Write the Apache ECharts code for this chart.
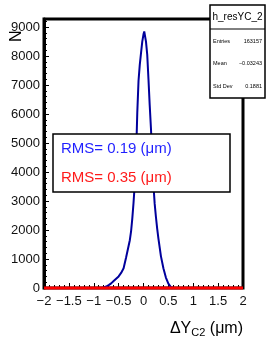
<!DOCTYPE html>
<html>
<head>
<meta charset="utf-8">
<script src="https://cdn.jsdelivr.net/npm/echarts@6/dist/echarts.min.js"></script>
<style>
  html, body { margin: 0; padding: 0; background: #fff; }
  #chart { width: 266px; height: 342px; }
</style>
</head>
<body>
<div id="chart"></div>
<script>
// blue histogram (narrow residual)
const blueX = [-2, -0.85, -0.8, -0.75, -0.7, -0.65, -0.6, -0.55, -0.5, -0.45, -0.4, -0.35, -0.3, -0.275, -0.25,
	-0.225, -0.2, -0.175, -0.15, -0.125, -0.1, -0.075, -0.05, -0.025, 0, 0.015, 0.025, 0.05, 0.075, 0.1,
	0.125, 0.15, 0.175, 0.2, 0.225, 0.25, 0.275, 0.3, 0.35, 0.4, 0.45, 0.5, 0.55, 0.6, 2];
const blueY = [0, 0, 20, 50, 100, 160, 240, 320, 400, 520, 680, 1050, 1450, 1650, 1950,
	2400, 2950, 3600, 4500, 6050, 7150, 7700, 8100, 8500, 8750, 8850, 8800, 8500, 8050, 7200,
	6300, 5500, 4500, 3550, 2900, 2450, 2050, 1700, 1100, 680, 360, 150, 30, 0, 0];
// red histogram lies flat on the axis
const redX = [-2, 2];
const redY = [0, 0];

const xTicks = [-2, -1.5, -1, -0.5, 0, 0.5, 1, 1.5, 2];
const yTicks = [0, 1000, 2000, 3000, 4000, 5000, 6000, 7000, 8000, 9000];

const statsTitle = 'h_resYC_2';
const statsLabels = ['Entries', 'Mean', 'Std Dev'];
const statsValues = ['163157', '\u22120.03243', '0.1881'];
const rmsLabels = ['RMS= 0.19 (\u03bcm)', 'RMS= 0.35 (\u03bcm)'];

const font = 'Liberation Sans, Arial, sans-serif';

function zip(xs, ys) {
	return xs.map((x, i) => [x, ys[i]]);
}

const chart = echarts.init(document.getElementById('chart'), null, { renderer: 'canvas' });

chart.setOption({
	animation: false,
	grid: { left: 44, right: 23, top: 19, bottom: 54, show: true, borderColor: '#000', borderWidth: 3 },
	xAxis: {
		type: 'value', min: -2, max: 2, interval: 0.5,
		axisLine: { show: true, onZero: false, lineStyle: { color: '#000', width: 2 } },
		axisTick: { inside: true, length: 5, lineStyle: { color: '#000', width: 1 } },
		minorTick: { show: true, splitNumber: 5, length: 3, lineStyle: { color: '#000', width: 1 } },
		splitLine: { show: false },
		axisLabel: {
			color: '#111', fontFamily: font, fontSize: 13, margin: 7,
			formatter: v => xTicks.includes(v) ? String(v).replace('-', '\u2212') : ''
		}
	},
	yAxis: {
		type: 'value', min: 0, max: 9280, interval: 1000,
		axisLine: { show: true, onZero: false, lineStyle: { color: '#000', width: 3 } },
		axisTick: { inside: true, length: 5, lineStyle: { color: '#000', width: 1 } },
		minorTick: { show: true, splitNumber: 5, length: 3, lineStyle: { color: '#000', width: 1 } },
		splitLine: { show: false },
		axisLabel: {
			color: '#111', fontFamily: font, fontSize: 13, margin: 4, showMaxLabel: false,
			formatter: v => yTicks.includes(v) ? String(v) : ''
		}
	},
	series: [
		{
			type: 'line', data: zip(blueX, blueY), symbol: 'none', clip: true,
			lineStyle: { color: '#00009c', width: 2 }, z: 3
		},
		{
			type: 'line', data: zip(redX, redY), symbol: 'none', clip: false,
			lineStyle: { color: '#ff0000', width: 3 }, z: 4
		}
	],
	graphic: [
		// y axis title
		{
			type: 'text', x: 9, y: 42, rotation: Math.PI / 2,
			style: { text: 'N', font: '16px ' + font, fill: '#000', textAlign: 'left', textVerticalAlign: 'top' }
		},
		// x axis title
		{
			type: 'text', x: 243, y: 319,
			style: {
				text: '{a|\u0394Y}{s|C2}{a| (\u03bcm)}', textAlign: 'right', fill: '#000',
				rich: {
					a: { fontFamily: font, fontSize: 16, color: '#000', lineHeight: 20 },
					s: { fontFamily: font, fontSize: 11, color: '#000', padding: [8, 0, 0, 0], lineHeight: 20 }
				}
			}
		},
		// RMS box
		{
			type: 'rect', shape: { x: 53, y: 134, width: 177, height: 58 },
			style: { fill: '#fff', stroke: '#000', lineWidth: 1.5 }, z: 10
		},
		{
			type: 'text', x: 61, y: 149, z: 11,
			style: { text: rmsLabels[0], font: '15px ' + font, fill: '#1f1fff', textVerticalAlign: 'middle' }
		},
		{
			type: 'text', x: 61, y: 178, z: 11,
			style: { text: rmsLabels[1], font: '15px ' + font, fill: '#ff1a1a', textVerticalAlign: 'middle' }
		},
		// stats box
		{
			type: 'rect', shape: { x: 210, y: 5, width: 55, height: 93 },
			style: { fill: '#fff', stroke: '#000', lineWidth: 1.5 }, z: 10
		},
		{
			type: 'line', shape: { x1: 210, y1: 29, x2: 265, y2: 29 },
			style: { stroke: '#000', lineWidth: 1 }, z: 11
		},
		{
			type: 'text', x: 237.5, y: 17, z: 11,
			style: { text: statsTitle, font: '10px ' + font, fill: '#000', textAlign: 'center', textVerticalAlign: 'middle' }
		},
		...statsLabels.map((lab, i) => ({
			type: 'text', x: 213, y: 41 + i * 22.5, z: 11,
			style: { text: lab, font: '5.5px ' + font, fill: '#000', textVerticalAlign: 'middle' }
		})),
		...statsValues.map((val, i) => ({
			type: 'text', x: 262, y: 41 + i * 22.5, z: 11,
			style: { text: val, font: '5.5px ' + font, fill: '#000', textAlign: 'right', textVerticalAlign: 'middle' }
		}))
	]
});
</script>
</body>
</html>
